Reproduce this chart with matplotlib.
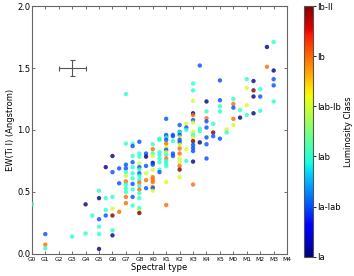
import numpy as np
import matplotlib
matplotlib.use("Agg")
import matplotlib.pyplot as plt

# spectral type index: G0=0 ... G8=8, K0=9 ... K5=14, M0=15 ... M4=19
type_labels = ["G0", "G1", "G2", "G3", "G4", "G5", "G6", "G7", "G8", "K0",
               "K1", "K2", "K3", "K4", "K5", "M0", "M1", "M2", "M3", "M4"]
class_labels = ["Ia", "Ia-Iab", "Iab", "Iab-Ib", "Ib", "Ib-II"]

# (spectral index, EW, luminosity class code)
stars = {
    0.0: [(0.40, 2)],
    1.0: [(0.16, 1), (0.075, 4), (0.045, 2)],
    3.0: [(0.14, 2)],
    4.0: [(0.40, 0), (0.165, 2)],
    4.5: [(0.31, 2)],
    5.0: [(0.51, 2), (0.45, 0), (0.28, 1), (0.22, 2), (0.16, 2), (0.04, 0)],
    5.5: [(0.70, 0), (0.45, 2), (0.355, 2), (0.31, 1)],
    6.0: [(0.79, 0), (0.66, 1), (0.46, 2), (0.365, 3), (0.31, 5), (0.19, 2), (0.15, 0)],
    6.5: [(0.69, 1), (0.57, 1), (0.34, 4)],
    7.0: [(1.29, 2), (0.89, 2), (0.72, 1), (0.69, 1), (0.66, 2), (0.63, 3), (0.585, 4),
          (0.56, 2), (0.53, 2), (0.50, 2), (0.46, 4), (0.41, 4)],
    7.5: [(0.89, 2), (0.87, 1), (0.79, 2), (0.74, 1), (0.70, 2), (0.65, 2), (0.61, 2),
          (0.565, 1), (0.52, 2), (0.46, 1), (0.39, 2)],
    8.0: [(0.905, 1), (0.81, 2), (0.785, 2), (0.73, 3), (0.70, 1), (0.68, 2), (0.65, 1),
          (0.63, 2), (0.60, 2), (0.575, 4), (0.55, 2), (0.52, 4), (0.49, 2), (0.45, 2),
          (0.37, 2), (0.345, 3), (0.33, 5)],
    8.5: [(0.81, 1), (0.785, 0), (0.71, 1), (0.65, 3), (0.595, 4), (0.53, 1)],
    9.0: [(0.885, 2), (0.845, 4), (0.81, 2), (0.79, 3), (0.735, 0), (0.72, 1), (0.68, 3),
          (0.62, 4), (0.60, 4), (0.58, 4), (0.54, 4), (0.53, 1), (0.51, 3)],
    9.5: [(0.93, 2), (0.92, 2), (0.82, 2), (0.80, 2), (0.77, 2), (0.74, 2), (0.68, 2), (0.66, 1)],
    10.0: [(1.09, 1), (0.96, 1), (0.945, 1), (0.94, 2), (0.92, 1), (0.89, 4), (0.86, 3),
           (0.84, 1), (0.82, 3), (0.80, 2), (0.77, 4), (0.75, 2), (0.73, 2), (0.71, 2),
           (0.58, 3), (0.395, 4)],
    10.5: [(0.96, 1), (0.95, 1), (0.91, 2), (0.81, 1), (0.79, 1)],
    11.0: [(1.04, 1), (0.985, 1), (0.98, 2), (0.96, 1), (0.94, 3), (0.92, 1), (0.90, 1),
           (0.88, 3), (0.85, 4), (0.81, 4), (0.77, 3), (0.74, 3), (0.71, 4), (0.68, 5), (0.62, 3)],
    11.5: [(1.05, 3), (1.02, 1), (1.0, 2), (0.845, 3), (0.75, 2)],
    12.0: [(1.375, 2), (1.32, 2), (1.235, 3), (1.135, 0), (1.12, 4), (1.08, 1), (1.06, 3),
           (0.985, 3), (0.96, 2), (0.94, 3), (0.91, 5), (0.88, 1), (0.855, 1), (0.83, 1),
           (0.745, 0), (0.56, 4)],
    12.5: [(1.52, 1), (1.01, 2), (0.99, 2), (0.90, 0)],
    13.0: [(1.23, 0), (1.15, 2), (1.095, 4), (1.07, 1), (1.02, 1), (0.94, 1), (0.885, 1), (0.77, 1)],
    13.5: [(1.05, 2), (0.98, 5), (0.95, 1)],
    14.0: [(1.40, 1), (1.24, 1), (1.19, 2), (1.15, 2), (0.93, 1)],
    14.5: [(1.005, 3), (0.98, 2)],
    15.0: [(1.25, 2), (1.21, 4), (1.18, 1), (1.09, 4), (1.04, 3)],
    15.5: [(1.16, 2), (1.10, 0)],
    16.0: [(1.41, 2), (1.34, 3), (1.20, 3), (1.12, 2)],
    16.5: [(1.395, 0), (1.32, 5), (1.27, 0), (1.135, 0)],
    17.0: [(1.33, 2), (1.27, 1), (1.155, 2)],
    17.5: [(1.67, 0), (1.51, 4)],
    18.0: [(1.71, 2), (1.48, 0), (1.41, 1), (1.36, 1), (1.23, 2)],
}

sptype = []
ew = []
lclass = []
for t, pts in stars.items():
    for v, c in pts:
        sptype.append(t)
        ew.append(v)
        lclass.append(c)
sptype = np.array(sptype)
ew = np.array(ew)
lclass = np.array(lclass)

# typical error bar
err_x, err_y = 3, 1.5
err_dx, err_dy = 1.0, 0.065

fig = plt.figure(figsize=(3.54, 2.76), dpi=100)
ax = fig.add_axes([0.090, 0.080, 0.721, 0.898])
cax = fig.add_axes([0.859, 0.070, 0.024, 0.908])

sc = ax.scatter(sptype, ew, c=lclass, cmap="jet", vmin=0, vmax=5, s=10,
                edgecolors="none", alpha=0.8, zorder=3)
ax.errorbar(err_x, err_y, xerr=err_dx, yerr=err_dy, color="#555555",
            lw=0.8, capsize=1.8, capthick=0.8)

ax.set_xlim(0, 19)
ax.set_ylim(0, 2.0)
ax.set_xticks(range(len(type_labels)))
ax.set_xticklabels(type_labels, fontsize=4.3)
ax.set_yticks([0, 0.5, 1.0, 1.5, 2.0])
ax.set_yticklabels(["0.0", "0.5", "1.0", "1.5", "2.0"], fontsize=6)
ax.tick_params(direction="in", top=True, right=True, length=2.5, width=0.6,
               color="#555555")
ax.tick_params(axis="x", pad=2.5)
ax.tick_params(axis="y", pad=1.0)
ax.set_xlabel("Spectral type", fontsize=6, labelpad=0.5)
ax.set_ylabel("EW(Ti I) (Angstrom)", fontsize=6, labelpad=2)
for sp in ax.spines.values():
    sp.set_color("#666666")
    sp.set_linewidth(0.8)

cb = fig.colorbar(sc, cax=cax, ticks=range(6))
cb.solids.set_alpha(1)
cb.ax.set_yticklabels(class_labels, fontsize=6)
cb.ax.tick_params(length=2, width=0.6, pad=1.5)
cb.set_label("Luminosity Class", fontsize=6, labelpad=2)
cb.outline.set_linewidth(0.8)
cb.outline.set_edgecolor("#555555")

fig.savefig("out.png", dpi=100)
